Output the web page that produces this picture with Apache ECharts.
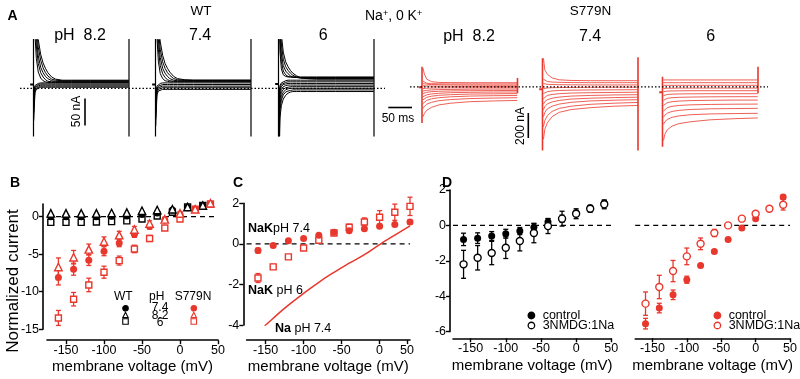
<!DOCTYPE html>
<html><head><meta charset="utf-8">
<script src="https://cdn.jsdelivr.net/npm/echarts@6/dist/echarts.min.js"></script>
<style>html,body{margin:0;padding:0;background:#fff}#c{width:800px;height:379px}</style>
</head><body><div id="c"></div>
<script>
const FONT = "'Liberation Sans', Arial, Helvetica, sans-serif";
const RED = '#e8372c';
const BLK = '#000';

// ---------- Panel A: current traces (time in ms, current in nA) ----------
const wtTimes = [0.5, 3, 6, 10, 15, 20, 25, 30, 38, 46, 60, 80, 120, 199.5];
const wtTraces82 = [
  [300,100,55,30,19,14,12,11,11,11,11,11,11,11],
  [300,125,78,46,29,21,16,13,12,12,12,12,12,12],
  [300,145,96,60,39,29,22,18,14,13,13,13,13,13],
  [300,165,115,76,52,38,29,23,17,15,14,14,14,14],
  [300,185,132,90,63,47,37,29,21,17,15,15,15,15],
  [-60,-8,-2,1,2,2,2,2,2,2,2,2,2,2],
  [-45,-5,0,3,4,4,4,4,4,4,4,4,4,4],
  [-30,-2,3,5,6,6,6,6,6,6,6,6,6,6],
  [-15,2,5,7,8,8,8,8,8,8,8,8,8,8],
  [-5,5,8,9,10,10,10,10,10,10,10,10,10,10]
];
const wtTraces74 = [
  [300,95,50,27,18,14,13,12,12,12,12,12,12,12],
  [300,120,72,42,27,20,16,14,13,13,13,13,13,13],
  [300,140,90,57,37,28,22,18,15,14,14,14,14,14],
  [300,160,108,72,49,37,29,24,18,16,15,15,15,15],
  [300,178,125,86,61,46,37,30,22,18,16,15,15,15],
  [-70,-12,-5,-2,-2,-2,-2,-2,-2,-2,-2,-2,-2,-2],
  [-55,-8,-2,0,1,1,1,1,1,1,1,1,1,1],
  [-40,-4,1,3,4,4,4,4,4,4,4,4,4,4],
  [-25,0,4,6,7,7,7,7,7,7,7,7,7,7],
  [-10,4,7,9,10,10,10,10,10,10,10,10,10,10]
];
const wtTraces60 = [
  [300,70,36,25,22,21,21,21,21,21,21,21,21,21],
  [300,92,50,32,25,22,21,20,20,20,20,20,20,20],
  [300,112,64,42,32,27,23,21,20,19,19,19,19,19],
  [300,130,82,54,40,33,28,24,21,19,18,18,18,18],
  [300,150,100,67,49,40,33,28,23,20,18,17,17,17],
  [-20,5,10,13,14,15,15,15,15,15,15,15,15,15],
  [-40,0,7,10,11,12,12,12,12,12,12,12,12,12],
  [-60,-5,3,7,8,9,9,9,9,9,9,9,9,9],
  [-80,-12,-2,3,5,6,6,6,6,6,6,6,6,6],
  [-100,-20,-8,-2,1,2,3,3,3,3,3,3,3,3],
  [-120,-30,-15,-7,-3,-1,0,0,0,0,0,0,0,0],
  [-150,-40,-22,-12,-7,-5,-4,-3,-3,-3,-3,-3,-3,-3],
  [-200,-55,-32,-20,-13,-9,-7,-6,-6,-6,-6,-6,-6,-6]
];
const wtHolding = [7, 7, 8];
const wtSpike = [-300, 300];

const sTimes = [2, 5, 10, 20, 35, 60, 100, 150, 199.5];
const sTraces82 = [
  [150,100,60,40,34,33,32,32,32],
  [45,35,28,24,23,22,22,22,22],
  [25,22,20,17,16,14,13,12,12],
  [8,7,6,5,4,3,2,2,2],
  [-15,-14,-12,-11,-10,-9,-9,-8,-8],
  [-35,-32,-29,-26,-23,-22,-20,-19,-19],
  [-55,-50,-45,-40,-37,-34,-32,-31,-30],
  [-80,-72,-65,-58,-53,-48,-45,-43,-42],
  [-105,-95,-85,-76,-69,-64,-59,-57,-55],
  [-135,-122,-109,-97,-88,-81,-75,-72,-70],
  [-175,-158,-140,-125,-112,-103,-95,-91,-88],
  [-240,-214,-188,-165,-146,-132,-120,-114,-110]
];
const sTraces74 = [
  [227,133,100,70,55,50,48,48,48],
  [60,48,42,37,35,33,32,32,32],
  [25,22,19,17,16,15,14,14,14],
  [-15,-12,-10,-8,-7,-6,-5,-4,-4],
  [-55,-46,-40,-34,-30,-28,-26,-25,-24],
  [-95,-80,-70,-62,-56,-51,-48,-46,-44],
  [-140,-118,-104,-92,-83,-75,-70,-66,-64],
  [-185,-158,-138,-122,-110,-99,-92,-87,-84],
  [-240,-205,-178,-156,-139,-125,-114,-108,-104],
  [-320,-270,-232,-198,-174,-156,-141,-132,-126],
  [-420,-340,-290,-240,-205,-183,-168,-156,-150]
];
const sTraces60 = [
  [54,54,54,54,54,54,54,54,54],
  [32,32,32,32,32,32,32,32,32],
  [11,11,11,11,11,11,11,11,11],
  [-14,-13,-12,-12,-11,-11,-11,-11,-11],
  [-40,-37,-35,-34,-33,-32,-32,-32,-32],
  [-72,-66,-62,-60,-58,-57,-56,-56,-56],
  [-110,-100,-93,-88,-85,-83,-81,-80,-80],
  [-150,-138,-128,-120,-115,-111,-109,-107,-107],
  [-195,-180,-168,-157,-150,-145,-142,-140,-139],
  [-245,-228,-212,-198,-189,-182,-177,-175,-173],
  [-300,-280,-262,-245,-233,-224,-218,-215,-213],
  [-430,-380,-345,-315,-295,-280,-265,-256,-250]
];
const sHolding = [-5, -20, -45];
const sStartSpike = [[-290, 160], [-510, 227], [-480, 80]];
const sEndSpike = [[-53, 70], [-510, 240], [-53, 160]];
const pulseEnd = 200;

// ---------- Panel B ----------
const wtVoltB = [-170,-150,-130,-110,-90,-70,-50,-30,-10,10,30];
const wt74B = [0.0,0.0,0.0,0.0,0.05,0.1,0.3,0.5,0.9,1.2,1.45];
const wt82B = [0.45,0.45,0.45,0.45,0.5,0.55,0.8,0.9,1.0,1.3,1.5];
const wt6B  = [-0.75,-0.75,-0.75,-0.7,-0.65,-0.55,-0.3,0.1,0.6,1.3,1.5];
const sVolt = [-160,-140,-120,-100,-80,-60,-40,-20,0,20,40];
const s74B = [-8.1,-7.0,-5.8,-4.6,-3.5,-2.35,-1.3,-0.45,0.3,1.0,1.7];
const s74Berr = [1.0,0.8,0.7,0.6,0.5,0.4,0.35,0.3,0.25,0.2,0.2];
const s82B = [-6.7,-5.4,-4.35,-3.3,-2.45,-1.7,-0.9,-0.35,0.45,1.0,1.8];
const s82Berr = [1.2,0.9,0.7,0.6,0.5,0.4,0.35,0.3,0.25,0.2,0.2];
const s6B = [-13.5,-11.0,-9.1,-7.4,-5.85,-4.3,-2.9,-1.5,-0.3,1.0,1.7];
const s6Berr = [1.0,0.9,0.9,0.8,0.6,0.5,0.4,0.3,0.25,0.2,0.2];

// ---------- Panel C ----------
const cNaK74 = [-0.33,-0.08,0.16,0.26,0.42,0.57,0.65,0.75,0.87,0.95,1.08];
const cNaK74err = [0.12,0.08,0.07,0.06,0.06,0.06,0.06,0.06,0.07,0.08,0.1];
const cNaK6 = [-1.68,-1.13,-0.64,-0.2,0.18,0.54,0.82,1.08,1.31,1.56,1.85];
const cNaK6err = [0.22,0.12,0.07,0.06,0.1,0.1,0.15,0.2,0.33,0.4,0.45];
const cNa74 = [-4.36,-3.66,-3.02,-2.44,-1.89,-1.40,-0.95,-0.53,-0.03,0.43,0.89];

// ---------- Panel D ----------
const dCtrlWT = [-0.79,-0.72,-0.6,-0.47,-0.32,-0.1,0.19,0.38,0.7,1.0,1.26];
const dCtrlWTerr = [0.35,0.3,0.25,0.25,0.2,0.2,0.2,0.2,0.15,0.12,0.12];
const dNmdgWT = [-2.2,-1.83,-1.56,-1.26,-0.88,-0.43,-0.04,0.38,0.66,0.94,1.19];
const dNmdgWTerr = [0.79,0.69,0.66,0.61,0.56,0.55,0.42,0.42,0.28,0.19,0.25];
const dCtrlS = [-5.55,-4.67,-3.92,-3.07,-2.26,-1.47,-0.79,-0.15,0.38,0.94,1.6];
const dCtrlSerr = [0.3,0.27,0.27,0.2,0.1,0.08,0.06,0.05,0.06,0.08,0.12];
const dNmdgS = [-4.42,-3.48,-2.58,-1.75,-1.04,-0.43,0.0,0.38,0.66,0.94,1.17];
const dNmdgSerr = [0.66,0.66,0.6,0.47,0.33,0.2,0.08,0.06,0.06,0.08,0.3];

const bTicks = [-150,-100,-50,0,50];

// ---------- build ----------
const series = [];
function line(g, data, color, width, extra) {
  series.push(Object.assign({type:'line', xAxisIndex:g, yAxisIndex:g, data, symbol:'none', showSymbol:false,
    lineStyle:{color, width}, silent:true, animation:false, z:2}, extra || {}));
}
function traces(g, times, list, color, width) {
  list.forEach(tr => line(g, times.map((t,i)=>[t, tr[i]]), color, width));
}
function pts(xs, ys) { return xs.map((x,i)=>[x, ys[i]]); }
function errs(xs, ys, es) { return xs.map((x,i)=>[x, ys[i], es[i]]); }
function errRender(color) {
  return function(params, api) {
    const x = api.value(0), y = api.value(1), e = api.value(2);
    const a = api.coord([x, y+e]), b = api.coord([x, y-e]); const w = 2.5;
    const st = {stroke: color, lineWidth: 1.3};
    return {type:'group', children:[
      {type:'line', shape:{x1:a[0],y1:a[1],x2:b[0],y2:b[1]}, style:st},
      {type:'line', shape:{x1:a[0]-w,y1:a[1],x2:a[0]+w,y2:a[1]}, style:st},
      {type:'line', shape:{x1:b[0]-w,y1:b[1],x2:b[0]+w,y2:b[1]}, style:st}
    ]};
  };
}
function errorBars(g, data, color) {
  series.push({type:'custom', xAxisIndex:g, yAxisIndex:g, data, renderItem: errRender(color),
    encode:{x:0, y:1}, silent:true, z:3, animation:false});
}
function scatter(name, g, data, symbol, size, color, open) {
  series.push({type:'scatter', name, xAxisIndex:g, yAxisIndex:g, data, symbol, symbolSize:size,
    itemStyle: open ? {color:'#fff', borderColor:color, borderWidth:1.4, opacity:1} : {color, borderColor:color, borderWidth:0, opacity:1},
    clip:false, silent:true, z:4, animation:false});
}
function zeroLine(g, x0, x1) {
  line(g, [[x0,0],[x1,0]], BLK, 1.2, {lineStyle:{color:BLK, width:1.2, type:[5,4]}, z:1});
}

// grids
const K = 0.4775; // px per ms
const grids = [], xAxes = [], yAxes = [];
function traceGrid(t0, top, height, ymin, ymax) {
  grids.push({left: t0 - 10*K, top, width: 220*K, height, containLabel:false});
  xAxes.push({type:'value', gridIndex: grids.length-1, min:-10, max:210, show:false});
  yAxes.push({type:'value', gridIndex: grids.length-1, min:ymin, max:ymax, show:false});
}
[33.5, 155.5, 278.5].forEach(t0 => traceGrid(t0, 39.7, 96.12, -88, 90));
[422, 542.5, 662.5].forEach(t0 => traceGrid(t0, 57.95, 97.5, -550, 230));

const axLine = {show:true, onZero:false, lineStyle:{color:BLK, width:1.6}};
const axTick = (vals) => ({show:true, length:4, lineStyle:{color:BLK, width:1.4}, customValues: vals});
const axLabel = (vals, fmt) => ({color:BLK, fontFamily:FONT, fontSize:12.5, margin:4, customValues: vals, formatter: fmt});
function ivGrid(left, top, width, height, xmin, xmax, xoff, ymin, ymax, yoff, yvals, xvals, xfmt, showY, gap) {
  grids.push({left, top, width, height});
  const gi = grids.length-1;
  xAxes.push({type:'value', gridIndex:gi, position:'bottom', min:xmin, max:xmax, offset:xoff, axisLine:axLine,
    axisTick:axTick(xvals), axisLabel:axLabel(xvals, xfmt), splitLine:{show:false},
    name:'membrane voltage (mV)', nameLocation:'middle', nameGap:gap,
    nameTextStyle:{fontFamily:FONT, fontSize:15, color:BLK}});
  yAxes.push({type:'value', gridIndex:gi, position:'left', min:ymin, max:ymax, offset:yoff, show:showY, axisLine:axLine,
    axisTick:axTick(yvals), axisLabel:axLabel(yvals), splitLine:{show:false}});
}
// B (6)
ivGrid(47, 203.95, 171, 125.25, -175, 50, 11, -15, 1.7, 4, [-15,-10,-5,0], bTicks, null, true, 19.5);
// C (7)
ivGrid(246.6, 203.3, 163.4, 121.8, -175, 40, 15, -4, 2, 3.3, [-4,-2,0,2], [-150,-100,-50,0,36], v => v === 36 ? '50' : String(v), true, 19.5);
// D left (8), D right (9)
ivGrid(453, 190, 158.3, 141.6, -175, 50, 6.7, -6, 2, 3, [-6,-4,-2,0,2], bTicks, null, true, 20);
ivGrid(635.2, 190, 157.5, 141.6, -175, 50, 6.7, -6, 2, 3, [-6,-4,-2,0,2], bTicks, null, false, 20);

// Panel A series
[wtTraces82, wtTraces74, wtTraces60].forEach((list, g) => {
  traces(g, wtTimes, list, BLK, 1.0);
  line(g, [[-7, wtHolding[g]], [0, wtHolding[g]]], BLK, 2.2);
  line(g, [[0, wtSpike[0]], [0, wtSpike[1]]], BLK, 1.2);
  line(g, [[pulseEnd, wtSpike[0]], [pulseEnd, wtSpike[1]]], BLK, 1.2);
});
[sTraces82, sTraces74, sTraces60].forEach((list, i) => {
  const g = 3 + i;
  traces(g, sTimes, list, RED, 0.8);
  line(g, [[-7, sHolding[i]], [0, sHolding[i]]], RED, 2);
  line(g, [[0, sStartSpike[i][0]], [0, sStartSpike[i][1]]], RED, 1.6);
  line(g, [[pulseEnd, sEndSpike[i][0]], [pulseEnd, sEndSpike[i][1]]], RED, 1.6);
});

// Panel B series
zeroLine(6, -175, 50);
scatter('WT pH 6', 6, pts(wtVoltB, wt6B), 'rect', 6, BLK, true);
scatter('WT pH 7.4', 6, pts(wtVoltB, wt74B), 'circle', 7, BLK, false);
scatter('WT pH 8.2', 6, pts(wtVoltB, wt82B), 'triangle', 7.5, BLK, true);
errorBars(6, errs(sVolt, s6B, s6Berr), RED);
errorBars(6, errs(sVolt, s74B, s74Berr), RED);
errorBars(6, errs(sVolt, s82B, s82Berr), RED);
scatter('S779N pH 6', 6, pts(sVolt, s6B), 'rect', 6, RED, true);
scatter('S779N pH 7.4', 6, pts(sVolt, s74B), 'circle', 7, RED, false);
scatter('S779N pH 8.2', 6, pts(sVolt, s82B), 'triangle', 7.5, RED, true);

// Panel C series
zeroLine(7, -175, 40);
line(7, pts(sVolt, cNa74), RED, 1.5, {smooth:true, z:2});
errorBars(7, errs(sVolt, cNaK6, cNaK6err), RED);
errorBars(7, errs(sVolt, cNaK74, cNaK74err), RED);
scatter('C NaK pH 6', 7, pts(sVolt, cNaK6), 'rect', 6, RED, true);
scatter('C NaK pH 7.4', 7, pts(sVolt, cNaK74), 'circle', 7, RED, false);

// Panel D series
zeroLine(8, -175, 50);
errorBars(8, errs(sVolt, dNmdgWT, dNmdgWTerr), BLK);
errorBars(8, errs(sVolt, dCtrlWT, dCtrlWTerr), BLK);
scatter('WT control', 8, pts(sVolt, dCtrlWT), 'circle', 7, BLK, false);
scatter('WT 3NMDG:1Na', 8, pts(sVolt, dNmdgWT), 'circle', 7, BLK, true);
zeroLine(9, -175, 50);
errorBars(9, errs(sVolt, dNmdgS, dNmdgSerr), RED);
errorBars(9, errs(sVolt, dCtrlS, dCtrlSerr), RED);
scatter('S779N control', 9, pts(sVolt, dCtrlS), 'circle', 7, RED, false);
scatter('S779N 3NMDG:1Na', 9, pts(sVolt, dNmdgS), 'circle', 7, RED, true);

// legends
const legKey = (names, left, top) => ({data:names, orient:'vertical', left, top, padding:0,
  itemWidth:5.5, itemHeight:5.5, itemGap:0, formatter:()=>'', textStyle:{fontSize:6, lineHeight:6},
  itemStyle:{borderWidth:1.1}, selectedMode:false});
const legD = (names, left) => ({data:names, orient:'vertical', left, top:309, padding:0,
  itemWidth:6.5, itemHeight:6.5, itemGap:-3, formatter: n => n.replace(/^(WT|S779N) /, ''),
  itemStyle:{borderWidth:1.3},
  textStyle:{fontFamily:FONT, fontSize:12.5, lineHeight:10, height:10, color:BLK, padding:[0,0,0,3]}, selectedMode:false});

// graphic annotations
function txt(x, y, text, size, opts) {
  return Object.assign({type:'text', x, y, z:100, style:Object.assign({text, fill:BLK,
    font: (opts && opts.bold ? 'bold ' : '') + size + 'px ' + FONT, align:'center', verticalAlign:'middle'},
    opts && opts.style || {})}, opts && opts.el || {});
}
function gline(x1, y1, x2, y2, w, dash) {
  return {type:'line', z:100, shape:{x1,y1,x2,y2}, style:{stroke:BLK, lineWidth:w, lineDash:dash || null}};
}
const graphic = [
  txt(12.5, 16, 'A', 14, {bold:true}),
  txt(201, 11, 'WT', 13.5),
  txt(590.5, 11, 'S779N', 13.5),
  {type:'text', x:365, y:16, z:100, style:{text:'{n|Na}{s|+}{n|, 0 K}{s|+}', fill:BLK, align:'left', verticalAlign:'middle',
    rich:{n:{fontFamily:FONT, fontSize:14, fill:BLK}, s:{fontFamily:FONT, fontSize:9, fill:BLK, verticalAlign:'top', lineHeight:14}}}},
  txt(80, 35.5, 'pH  8.2', 16), txt(200, 35.5, '7.4', 16), txt(323.3, 35.5, '6', 16),
  txt(469, 37, 'pH  8.2', 16), txt(590, 37, '7.4', 16), txt(710.7, 37, '6', 16),
  gline(20, 88.3, 385, 88.3, 1.3, [1.5, 2]),
  gline(410, 86.8, 768, 86.8, 1.3, [1.5, 2]),
  gline(85, 98.5, 85, 125.5, 1.6),
  txt(77, 111.5, '50 nA', 12, {el:{rotation:Math.PI/2}}),
  gline(388.3, 107.5, 412, 107.5, 1.6),
  txt(398, 118.5, '50 ms', 12),
  gline(528.3, 113, 528.3, 138, 1.6),
  txt(520.5, 126, '200 nA', 12, {el:{rotation:Math.PI/2}}),
  txt(15, 183, 'B', 14, {bold:true}),
  txt(238, 183, 'C', 14, {bold:true}),
  txt(447, 183, 'D', 14, {bold:true}),
  txt(13, 281, 'Normalized current', 17, {el:{rotation:Math.PI/2}}),
  txt(123.3, 297, 'WT', 12), txt(156.7, 297, 'pH', 12), txt(193, 297, 'S779N', 12),
  txt(160, 307.7, '7.4', 12), txt(160, 315.2, '8.2', 12), txt(160, 322.7, '6', 12),
  {type:'text', x:248, y:229, z:100, style:{text:'{b|NaK}pH 7.4', font:'12.5px '+FONT, fill:BLK, align:'left', verticalAlign:'middle', rich:{b:{fontWeight:'bold', fontFamily:FONT, fontSize:12.5}}}},
  {type:'text', x:248, y:290.7, z:100, style:{text:'{b|NaK} pH 6', font:'12.5px '+FONT, fill:BLK, align:'left', verticalAlign:'middle', rich:{b:{fontWeight:'bold', fontFamily:FONT, fontSize:12.5}}}},
  {type:'text', x:275, y:329, z:100, style:{text:'{b|Na} pH 7.4', font:'12.5px '+FONT, fill:BLK, align:'left', verticalAlign:'middle', rich:{b:{fontWeight:'bold', fontFamily:FONT, fontSize:12.5}}}}
];

const chart = echarts.init(document.getElementById('c'), null, {renderer:'canvas'});
chart.setOption({
  backgroundColor:'#fff',
  animation:false,
  textStyle:{fontFamily:FONT},
  grid: grids, xAxis: xAxes, yAxis: yAxes,
  legend: [
    legKey(['WT pH 7.4','WT pH 8.2','WT pH 6'], 122.2, 305),
    legKey(['S779N pH 7.4','S779N pH 8.2','S779N pH 6'], 190.5, 305),
    legD(['WT control','WT 3NMDG:1Na'], 527.5),
    legD(['S779N control','S779N 3NMDG:1Na'], 713.5)
  ],
  graphic: {elements: graphic},
  series
});
</script></body></html>
